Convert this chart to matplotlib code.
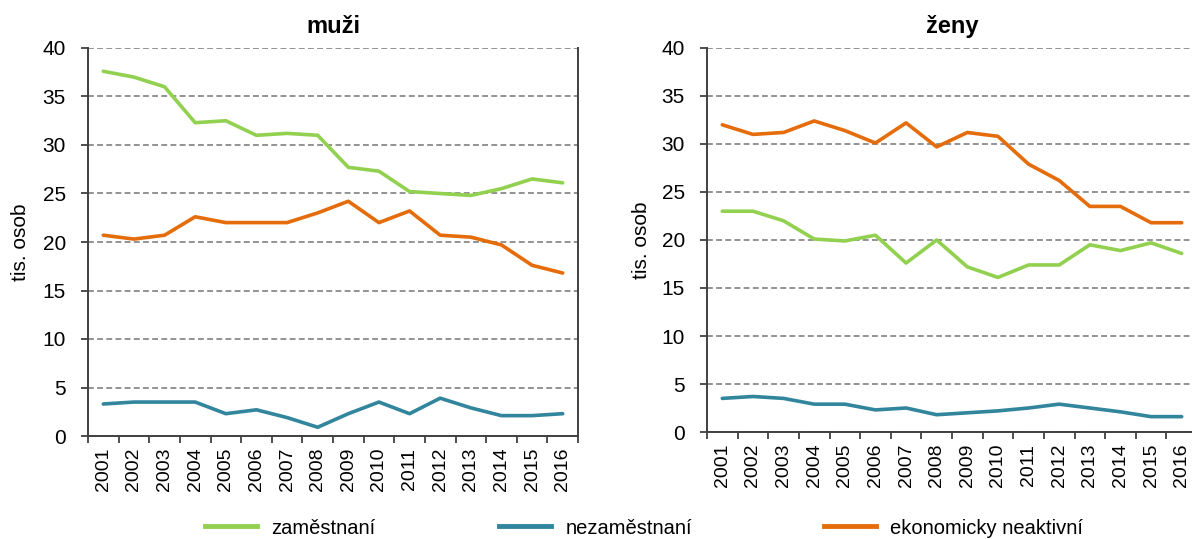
import numpy as np
import matplotlib.pyplot as plt
from matplotlib.lines import Line2D

plt.rcParams['font.family'] = ['Liberation Sans', 'DejaVu Sans']

years = [str(y) for y in range(2001, 2017)]

# muži
muzi_zam = [37.6, 37.0, 36.0, 32.3, 32.5, 31.0, 31.2, 31.0, 27.7, 27.3, 25.2, 25.0, 24.8, 25.5, 26.5, 26.1]
muzi_nez = [3.3, 3.5, 3.5, 3.5, 2.3, 2.7, 1.9, 0.9, 2.3, 3.5, 2.3, 3.9, 2.9, 2.1, 2.1, 2.3]
muzi_neak = [20.7, 20.3, 20.7, 22.6, 22.0, 22.0, 22.0, 23.0, 24.2, 22.0, 23.2, 20.7, 20.5, 19.7, 17.6, 16.8]

# ženy
zeny_zam = [23.0, 23.0, 22.0, 20.1, 19.9, 20.5, 17.6, 20.0, 17.2, 16.1, 17.4, 17.4, 19.5, 18.9, 19.7, 18.6]
zeny_nez = [3.5, 3.7, 3.5, 2.9, 2.9, 2.3, 2.5, 1.8, 2.0, 2.2, 2.5, 2.9, 2.5, 2.1, 1.6, 1.6]
zeny_neak = [32.0, 31.0, 31.2, 32.4, 31.4, 30.1, 32.2, 29.7, 31.2, 30.8, 27.9, 26.2, 23.5, 23.5, 21.8, 21.8]

labels = ['zaměstnaní', 'nezaměstnaní', 'ekonomicky neaktivní']
colors = ['#92D050', '#31859C', '#E46C0A']

W, H = 1192, 539
fig = plt.figure(figsize=(W / 100, H / 100), dpi=100)
fig.patch.set_facecolor('white')

ax1 = fig.add_axes([88 / W, 1 - 436 / H, 490 / W, 388 / H])
ax2 = fig.add_axes([707 / W, 1 - 432 / H, 490 / W, 384 / H])


def style(ax, title, series, xlab):
    x = np.arange(len(years))
    for s, c in zip(series, colors):
        ax.plot(x, s, color=c, lw=2.6, solid_capstyle='round', zorder=3)
    ax.set_xlim(-0.5, len(years) - 0.5)
    ax.set_ylim(0, 40)
    ax.set_yticks(np.arange(0, 41, 5))
    ax.yaxis.grid(True, ls=(0, (3.5, 2)), color='#808080', lw=1.2)
    ax.set_axisbelow(True)
    ax.spines['top'].set_visible(False)
    for sp in ['left', 'right', 'bottom']:
        ax.spines[sp].set_color('#404040')
        ax.spines[sp].set_linewidth(1.4)
    ax.set_xticks(x)
    ax.set_xticklabels(years, rotation=90)
    ax.set_xticks(np.arange(-0.5, len(years)), minor=True)
    ax.tick_params(axis='x', which='major', length=0, pad=8.5, labelsize=14)
    ax.tick_params(axis='x', which='minor', length=5, width=1.3, color='#404040')
    ax.tick_params(axis='y', length=5, width=1.3, color='#404040', pad=11, labelsize=15)
    ax.set_title(title, fontsize=17, fontweight='bold', pad=11)
    ax.set_ylabel('tis. osob', fontsize=15)
    ax.yaxis.set_label_coords(xlab, 0.5)


style(ax1, 'muži', [muzi_zam, muzi_nez, muzi_neak], -0.118)
style(ax2, 'ženy', [zeny_zam, zeny_nez, zeny_neak], -0.114)

for lab, c, x0 in zip(labels, colors, [205, 499, 824]):
    h = Line2D([], [], color=c, lw=3.5)
    fig.legend([h], [lab], loc='center left', bbox_to_anchor=(x0 / W, 1 - 528 / H),
               frameon=False, borderpad=0, borderaxespad=0, handlelength=2.6,
               handletextpad=0.7, fontsize=14.5)

fig.savefig('out.png', dpi=100, facecolor='white')
